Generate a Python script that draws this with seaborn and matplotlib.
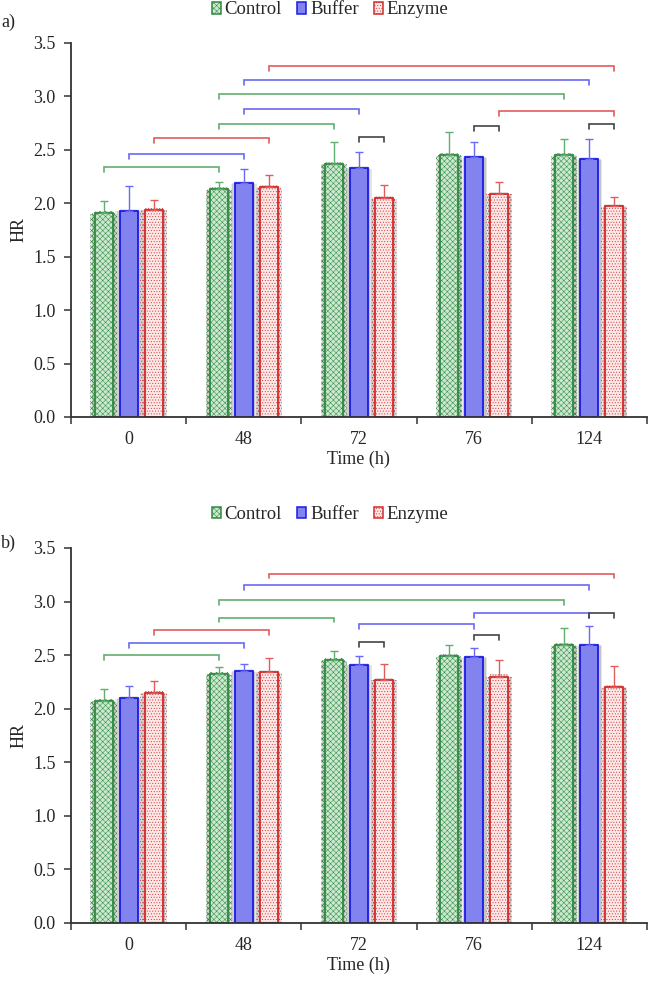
import numpy as np
import pandas as pd
import matplotlib
matplotlib.use("Agg")
import matplotlib.pyplot as plt
import matplotlib.patches as mpatches
import matplotlib.patheffects as pe
import seaborn as sns

# ---- data ----
times = ["0", "48", "72", "76", "124"]
groups = ["Control", "Buffer", "Enzyme"]

a_control = [1.91, 2.13, 2.37, 2.45, 2.45]
a_control_err = [0.11, 0.07, 0.20, 0.22, 0.15]
a_buffer = [1.93, 2.19, 2.33, 2.43, 2.41]
a_buffer_err = [0.23, 0.13, 0.15, 0.14, 0.19]
a_enzyme = [1.94, 2.15, 2.05, 2.09, 1.97]
a_enzyme_err = [0.09, 0.11, 0.12, 0.11, 0.09]

b_control = [2.07, 2.32, 2.45, 2.49, 2.59]
b_control_err = [0.11, 0.07, 0.09, 0.10, 0.16]
b_buffer = [2.10, 2.35, 2.41, 2.48, 2.59]
b_buffer_err = [0.11, 0.07, 0.08, 0.09, 0.18]
b_enzyme = [2.15, 2.34, 2.27, 2.30, 2.20]
b_enzyme_err = [0.11, 0.13, 0.15, 0.15, 0.20]

# significance brackets: (group from, time idx from, group to, time idx to, height)
a_brackets = [
    ("Control", 0, "Control", 1, 2.34),
    ("Buffer", 0, "Buffer", 1, 2.46),
    ("Enzyme", 0, "Enzyme", 1, 2.61),
    ("Control", 1, "Control", 2, 2.74),
    ("Buffer", 1, "Buffer", 2, 2.88),
    ("Control", 1, "Control", 4, 3.02),
    ("Buffer", 1, "Buffer", 4, 3.15),
    ("Enzyme", 1, "Enzyme", 4, 3.28),
    ("Enzyme", 3, "Enzyme", 4, 2.86),
    ("Buffer", 2, "Enzyme", 2, 2.62),
    ("Buffer", 3, "Enzyme", 3, 2.72),
    ("Buffer", 4, "Enzyme", 4, 2.74),
]
b_brackets = [
    ("Control", 0, "Control", 1, 2.50),
    ("Buffer", 0, "Buffer", 1, 2.61),
    ("Enzyme", 0, "Enzyme", 1, 2.73),
    ("Control", 1, "Control", 2, 2.85),
    ("Control", 1, "Control", 4, 3.01),
    ("Buffer", 1, "Buffer", 4, 3.15),
    ("Enzyme", 1, "Enzyme", 4, 3.26),
    ("Buffer", 2, "Buffer", 3, 2.79),
    ("Buffer", 3, "Buffer", 4, 2.89),
    ("Buffer", 2, "Enzyme", 2, 2.62),
    ("Buffer", 3, "Enzyme", 3, 2.69),
    ("Buffer", 4, "Enzyme", 4, 2.89),
]

face = {"Control": "#cbe8d0", "Buffer": "#8383f0", "Enzyme": "#fde8e8"}
edge = {"Control": "#2f8a3f", "Buffer": "#1a1ae6", "Enzyme": "#d42a2a"}
hatch = {"Control": "xxxxxx", "Buffer": None, "Enzyme": "......"}
bracket_col = {"Control": "#62ad70", "Buffer": "#6a6af4", "Enzyme": "#e25c5c"}

sns.set_style("ticks")
plt.rcParams["font.family"] = ["Liberation Serif", "DejaVu Serif"]
plt.rcParams["hatch.linewidth"] = 0.35

fig = plt.figure(figsize=(6.5, 9.82), dpi=100)
ax_a = fig.add_axes([0.1092, 0.5754, 0.886, 0.3809])
ax_b = fig.add_axes([0.1092, 0.0601, 0.886, 0.3819])

shadow = [
    pe.SimplePatchShadow(offset=(-3.0, -0.5), shadow_rgbFace="#000000", alpha=0.08),
    pe.SimplePatchShadow(offset=(3.0, -0.5), shadow_rgbFace="#000000", alpha=0.10),
    pe.SimplePatchShadow(offset=(-1.8, 0), shadow_rgbFace="#000000", alpha=0.12),
    pe.SimplePatchShadow(offset=(1.8, 0), shadow_rgbFace="#000000", alpha=0.14),
    pe.SimplePatchShadow(offset=(0, 1.5), shadow_rgbFace="#000000", alpha=0.10),
    pe.Normal(),
]
FS = 13


def panel(ax, vals, errs, brackets):
    df = pd.DataFrame({
        "Time": np.tile(times, 3),
        "HR": np.concatenate(vals),
        "Group": np.repeat(groups, len(times)),
    })
    sns.barplot(data=df, x="Time", y="HR", hue="Group", order=times,
                hue_order=groups, width=0.65, gap=0.28, errorbar=None,
                palette=[face[g] for g in groups], legend=False, ax=ax)
    centers = {}
    for g, cont, err in zip(groups, ax.containers, errs):
        xs = []
        for bar in cont:
            bar.set_facecolor(face[g])
            bar.set_edgecolor(edge[g])
            bar.set_linewidth(1.3)
            if hatch[g]:
                bar.set_hatch(hatch[g])
            bar.set_path_effects(shadow)
            xs.append(bar.get_x() + bar.get_width() / 2)
        centers[g] = xs
        ax.errorbar(xs, [b.get_height() for b in cont],
                    yerr=[np.zeros(len(err)), err], fmt="none",
                    ecolor=bracket_col[g], elinewidth=1.0, capsize=3,
                    capthick=1.0, zorder=1)

    tip = 0.045
    for g1, i1, g2, i2, h in brackets:
        c = bracket_col[g1] if g1 == g2 else "#444444"
        x1, x2 = centers[g1][i1], centers[g2][i2]
        ax.plot([x1, x1, x2, x2], [h - tip, h, h, h - tip], color=c,
                lw=1.2, solid_joinstyle="miter")

    ax.set_xlim(-0.5, 4.5)
    ax.set_ylim(0, 3.5)
    ax.set_yticks(np.arange(0, 3.51, 0.5))
    ax.set_yticklabels([f"{v:.1f}" for v in np.arange(0, 3.51, 0.5)])
    ax.set_xticks(np.arange(-0.5, 5, 1), minor=True)
    ax.tick_params(axis="x", which="major", length=0, pad=10, labelsize=FS)
    ax.tick_params(axis="x", which="minor", length=5, width=1.1, color="#333333")
    ax.tick_params(axis="y", length=5, width=1.1, color="#333333",
                   labelsize=FS, pad=6)
    for s in ["top", "right"]:
        ax.spines[s].set_visible(False)
    for s in ["left", "bottom"]:
        ax.spines[s].set_color("#333333")
        ax.spines[s].set_linewidth(1.3)
    ax.set_xlabel("Time (h)", fontsize=FS, labelpad=2)
    ax.set_ylabel("HR", fontsize=FS)
    ax.yaxis.set_label_coords(-0.075, 0.5)

    handles = [mpatches.Patch(facecolor=face[g], edgecolor=edge[g],
                              hatch=hatch[g], linewidth=1.1, label=g)
               for g in groups]
    ax.legend(handles=handles, loc="center", bbox_to_anchor=(0.45, 1.088),
              ncol=3, frameon=False, fontsize=13.5, handlelength=0.5,
              handleheight=0.55, handletextpad=0.2, columnspacing=0.8)


panel(ax_a, [a_control, a_buffer, a_enzyme],
      [a_control_err, a_buffer_err, a_enzyme_err], a_brackets)
panel(ax_b, [b_control, b_buffer, b_enzyme],
      [b_control_err, b_buffer_err, b_enzyme_err], b_brackets)

fig.text(0.002, 1 - 22 / 982, "a)", fontsize=FS, ha="left", va="center")
fig.text(0.002, 1 - 543 / 982, "b)", fontsize=FS, ha="left", va="center")

fig.savefig("out.png", dpi=100)
